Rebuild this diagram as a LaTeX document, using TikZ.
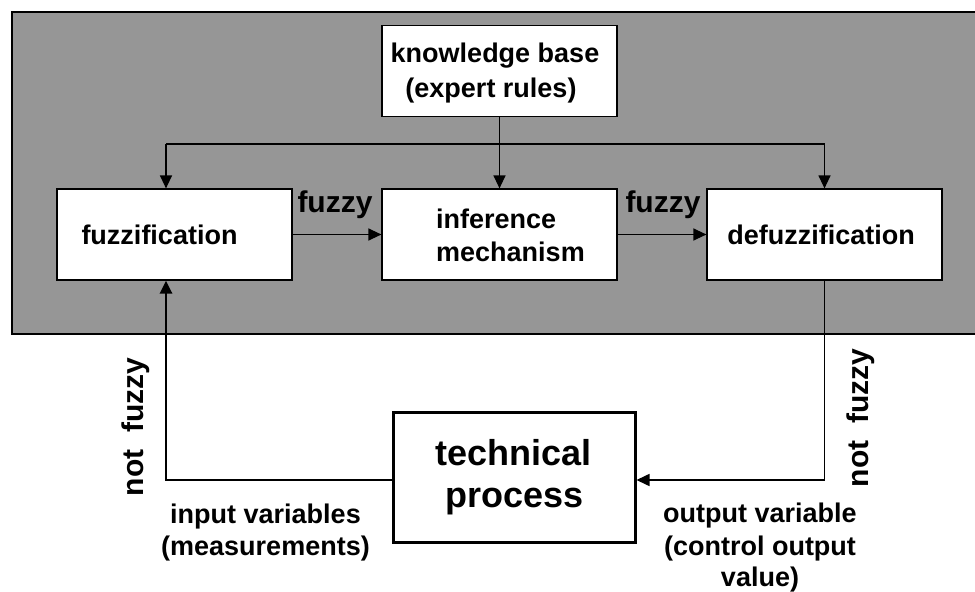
\documentclass[tikz,border=0pt]{standalone}
\usepackage{fontspec}
\setmainfont{Liberation Sans}
\usetikzlibrary{arrows.meta}
\definecolor{panelgray}{RGB}{150,150,150}

\begin{document}
\begin{tikzpicture}[x=1bp,y=-1bp,
  blockbox/.style={draw=black, fill=white, line width=1.2bp, minimum width=235bp,
    minimum height=91bp, inner sep=0pt},
  procbox/.style={draw=black, fill=white, line width=3bp, minimum width=242bp,
    minimum height=130bp, inner sep=0pt},
  txt/.style={font=\fontsize{27bp}{33bp}\selectfont\bfseries, inner sep=0pt, anchor=base},
  bigtxt/.style={font=\fontsize{30bp}{36bp}\selectfont\bfseries, inner sep=0pt, anchor=base},
  hugetxt/.style={font=\fontsize{36bp}{42bp}\selectfont\bfseries, inner sep=0pt, anchor=base},
  flow/.style={line width=1.3bp, -{Triangle[length=13bp,width=12bp]}},
  thickflow/.style={line width=2.8bp, -{Triangle[length=13bp,width=12bp]}},
  outflow/.style={line width=1.6bp, -{Triangle[length=13bp,width=12bp]}},
]
\useasboundingbox (0,0) rectangle (975,592);
\clip (0,0) rectangle (975,592);
\fill[white] (0,0) rectangle (975,592);

% controller panel
\draw[fill=panelgray, line width=1.5bp] (12,12) rectangle (995,334);

% blocks
\node[blockbox] (kb)     at (499.5,71)    {};
\node[blockbox] (fuzz)   at (174.5,234.5) {};
\node[blockbox] (inf)    at (499.5,234.5) {};
\node[blockbox] (defuzz) at (824.5,234.5) {};
\node[procbox]  (tech)   at (514,477)     {};

% block texts
\node[txt] (kbA)  at (495,63)  {knowledge base};
\node[txt] (kbB)  at (491,98)  {(expert rules)};
\node[txt, anchor=base west] (infA) at (436,229) {inference};
\node[txt, anchor=base west] (infB) at (436,262) {mechanism};
\node[txt] (fuzzT)   at (159.5,245) {fuzzification};
\node[txt] (defuzzT) at (821,245)   {defuzzification};
\node[hugetxt] (techA) at (513.5,465) {technical};
\node[hugetxt] (techB) at (514.5,507) {process};

% rule base distribution
\coordinate (busL) at (166,144);
\coordinate (busR) at (824.5,144);
\coordinate (loop) at (0,480);
\draw[line width=1.3bp] (busL) -- (busR);
\draw[flow] (kb.south) -- (inf.north);
\draw[flow] (busL) -- (busL |- fuzz.north);
\draw[flow] (busR) -- (defuzz.north);

% fuzzy signal path
\draw[flow] (fuzz.east) -- (inf.west);
\draw[flow] (inf.east) -- (defuzz.west);
\node[bigtxt] (fz1) at (335,213) {fuzzy};
\node[bigtxt] (fz2) at (663,213) {fuzzy};

% closed loop with the process
\draw[thickflow] (tech.west |- loop) -| (busL |- fuzz.south);
\draw[outflow] (defuzz.south) |- (tech.east |- loop);

\node[bigtxt, rotate=90] (nfL) at (143,427) {not\ \ fuzzy};
\node[bigtxt, rotate=90] (nfR) at (868,418) {not\ \ fuzzy};

\node[txt] (inA)  at (265.5,523) {input variables};
\node[txt] (inB)  at (265.5,555) {(measurements)};
\node[txt] (outA) at (760,522)   {output variable};
\node[txt] (outB) at (760,555)   {(control output};
\node[txt] (outC) at (760,586)   {value)};
\end{tikzpicture}
\end{document}
